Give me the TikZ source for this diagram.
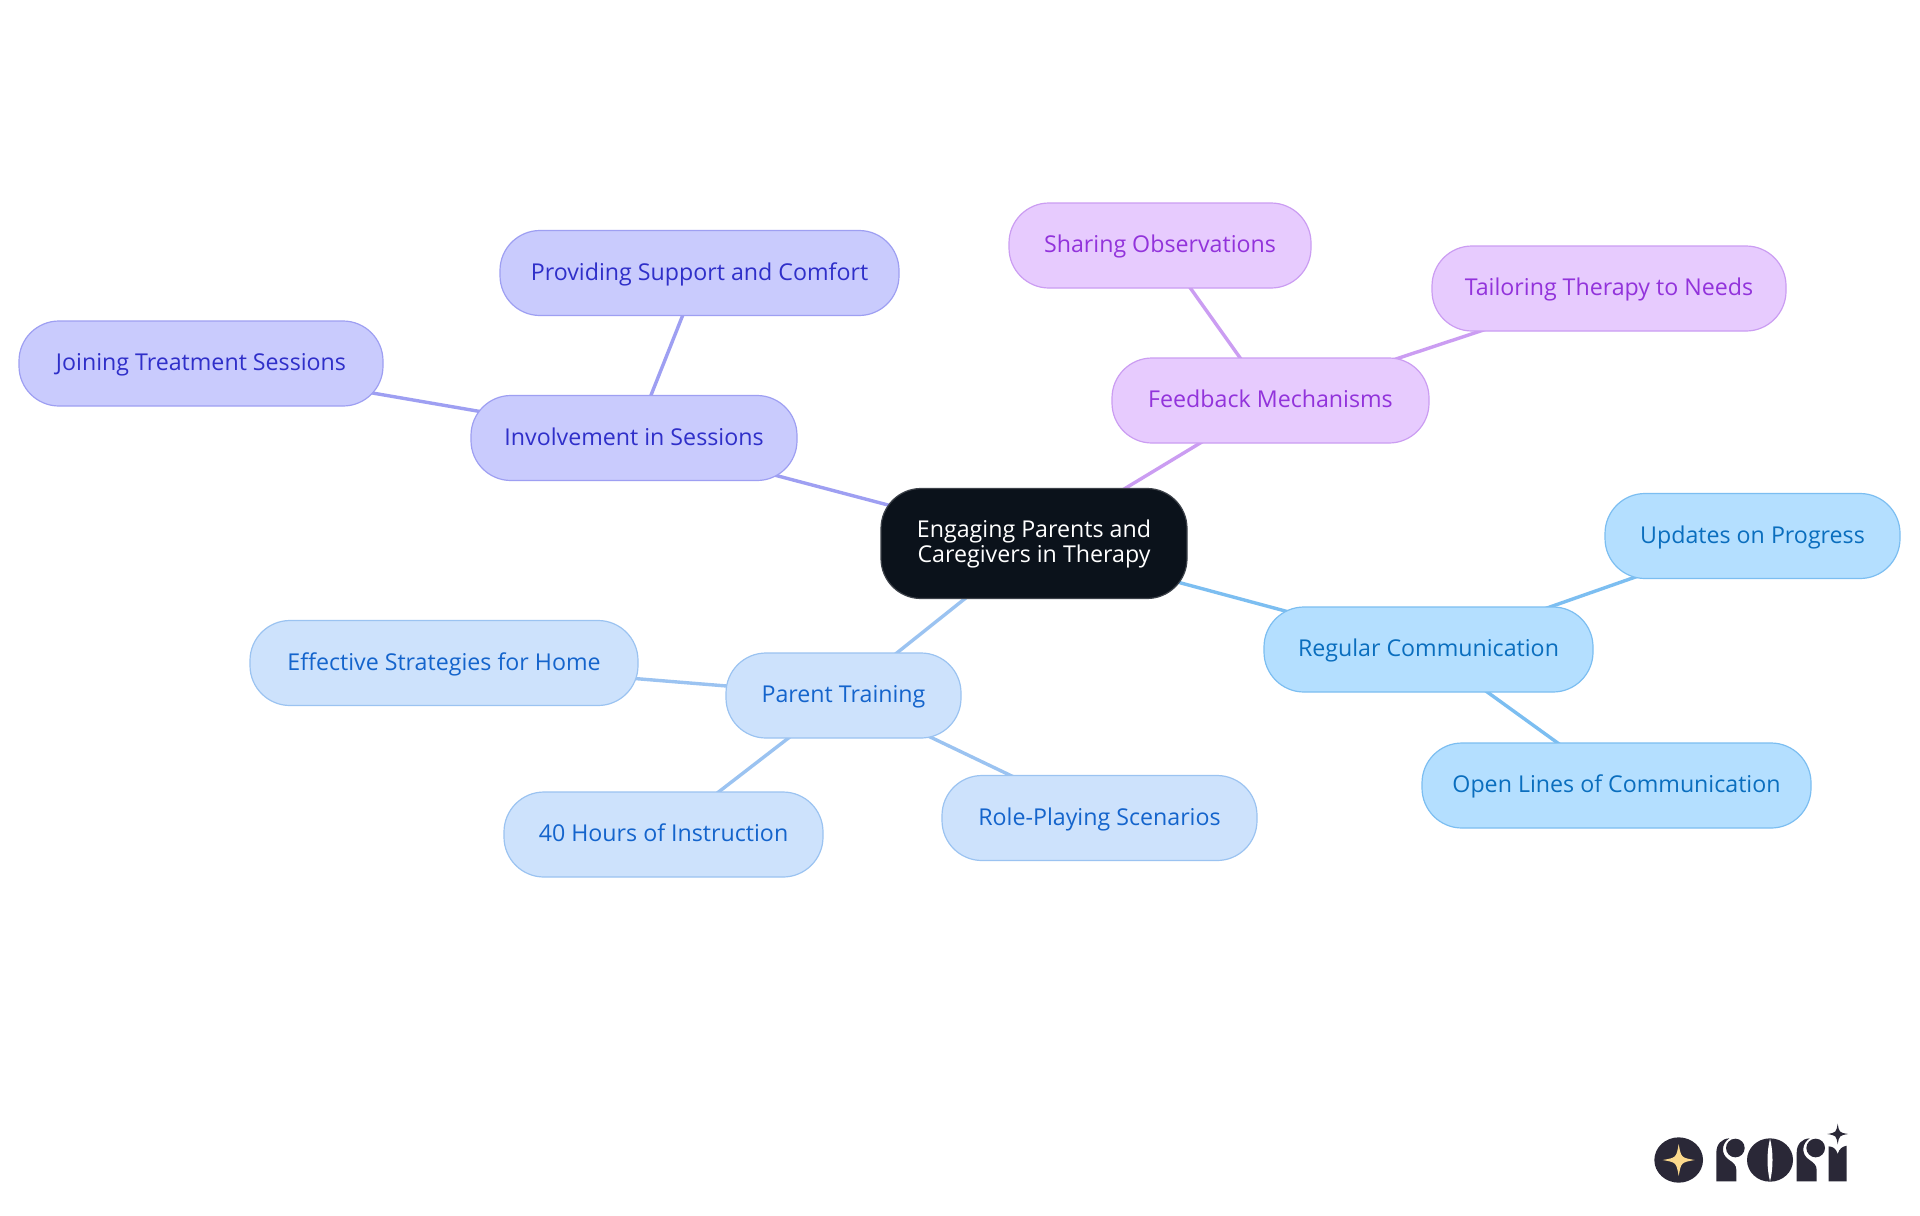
\documentclass[tikz,border=0pt]{standalone}
\usepackage{fontspec}
\setmainfont{Open Sans}
\usepackage{tikz}
\usetikzlibrary{backgrounds}

\definecolor{darkroot}{HTML}{0B121B}
\definecolor{fillSess}{HTML}{C9CBFD}
\definecolor{lineSess}{HTML}{9E9FF2}
\definecolor{textSess}{HTML}{2F2FC9}
\definecolor{fillFeed}{HTML}{E7CBFE}
\definecolor{lineFeed}{HTML}{CB9DF2}
\definecolor{textFeed}{HTML}{9233DB}
\definecolor{fillComm}{HTML}{B4DFFF}
\definecolor{lineComm}{HTML}{7CBEF1}
\definecolor{textComm}{HTML}{0A6EBE}
\definecolor{fillTrain}{HTML}{CDE2FC}
\definecolor{lineTrain}{HTML}{9BC3F1}
\definecolor{textTrain}{HTML}{1464CC}
\definecolor{logodark}{HTML}{2A2837}
\definecolor{logogold}{HTML}{FBD98C}

\tikzset{
	topic/.style = {rounded corners = 20pt, minimum height = 42.5pt, inner sep = 0pt, line width = 0.6pt,
		font = \fontsize{11.6}{12.5}\selectfont, text height = 9.4pt, text depth = 2.4pt},
	sess/.style = {topic, draw = lineSess, fill = fillSess, text = textSess},
	feed/.style = {topic, draw = lineFeed, fill = fillFeed, text = textFeed},
	comm/.style = {topic, draw = lineComm, fill = fillComm, text = textComm},
	train/.style = {topic, draw = lineTrain, fill = fillTrain, text = textTrain},
	link/.style = {line width = 1.7pt}
}

% four pointed star of the logo
\newcommand{\logostar}[4]{
	\fill [#4] (#1+#3,#2) .. controls (#1+0.15*#3,#2+0.15*#3) .. (#1,#2+#3)
		.. controls (#1-0.15*#3,#2+0.15*#3) .. (#1-#3,#2)
		.. controls (#1-0.15*#3,#2-0.15*#3) .. (#1,#2-#3)
		.. controls (#1+0.15*#3,#2-0.15*#3) .. cycle;
}

\begin{document}
\begin{tikzpicture}[x = 0.5pt, y = -0.5pt]
	\path [use as bounding box] (0,0) rectangle (1920,1215);

	\node (root) at (1034,543.5) [shape=rectangle, fill = darkroot, draw = darkroot!80!white, line width = 0.6pt, rounded corners = 20pt, minimum width = 153pt, minimum height = 55pt, inner sep = 0pt, align = center, text = white, font = \fontsize{11.6}{12.5}\selectfont] {Engaging Parents and\\Caregivers in Therapy};

	\node (involve) at (634,438) [sess, minimum width = 163pt] {Involvement in Sessions};
	\node (support) at (699.5,273) [sess, minimum width = 199.5pt] {Providing Support and Comfort};
	\node (joining) at (201,363.5) [sess, minimum width = 182pt] {Joining Treatment Sessions};

	\node (feedback) at (1270.5,400.5) [feed, minimum width = 158.5pt] {Feedback Mechanisms};
	\node (sharing) at (1160,245.5) [feed, minimum width = 151pt] {Sharing Observations};
	\node (tailor) at (1609,288.5) [feed, minimum width = 177pt] {Tailoring Therapy to Needs};

	\node (regular) at (1428.5,649.5) [comm, minimum width = 164.5pt] {Regular Communication};
	\node (updates) at (1752.5,536) [comm, minimum width = 147.5pt] {Updates on Progress};
	\node (openlines) at (1616.5,785.5) [comm, minimum width = 194.5pt] {Open Lines of Communication};

	\node (parent) at (843.5,695.5) [train, minimum width = 117.5pt] {Parent Training};
	\node (home) at (444,663) [train, minimum width = 194pt] {Effective Strategies for Home};
	\node (hours) at (663.5,834.5) [train, minimum width = 159.5pt] {40 Hours of Instruction};
	\node (role) at (1099.5,818) [train, minimum width = 157.5pt] {Role-Playing Scenarios};

	\begin{pgfonlayer}{background}
	\fill [white] (0,0) rectangle (1920,1215);
	\path [link, draw = lineSess]
	(root.center) edge (involve.center)
	(involve.center) edge (support.center)
	(involve.center) edge (joining.center);
	\path [link, draw = lineFeed]
	(root.center) edge (feedback.center)
	(feedback.center) edge (sharing.center)
	(feedback.center) edge (tailor.center);
	\path [link, draw = lineComm]
	(root.center) edge (regular.center)
	(regular.center) edge (updates.center)
	(regular.center) edge (openlines.center);
	\path [link, draw = lineTrain]
	(root.center) edge (parent.center)
	(parent.center) edge (home.center)
	(parent.center) edge (hours.center)
	(parent.center) edge (role.center);
	\end{pgfonlayer}

	% logo
	\begin{scope}[shift = {(1600,1080)}, x = 0.16667pt, y = -0.16667pt]
	\fill [logodark] (236,240) ellipse (73 and 68);
	\logostar{236}{240}{48}{logogold}
	\foreach \dx in {0,241} {
		\fill [logodark] (349+\dx,304) -- (349+\dx,218) .. controls (349+\dx,192) and (365+\dx,176) .. (388+\dx,175)
			.. controls (364+\dx,190) and (362+\dx,222) .. (385+\dx,238) .. controls (400+\dx,248) and (409+\dx,255) .. (409+\dx,270) -- (409+\dx,304) -- cycle;
		\fill [logodark] (406+\dx,204) circle (28);
	}
	\fill [logodark] (510,240) ellipse (69 and 65);
	\fill [white] (510,176) .. controls (500,215) and (500,265) .. (510,304) .. controls (520,265) and (520,215) .. (510,176) -- cycle;
	\fill [logodark] (686,304) -- (686,199) .. controls (700,200) and (708,206) .. (713,222) .. controls (718,206) and (726,200) .. (740,197) -- (740,304) -- cycle;
	\logostar{713}{162}{31}{logodark}
	\end{scope}
\end{tikzpicture}
\end{document}
